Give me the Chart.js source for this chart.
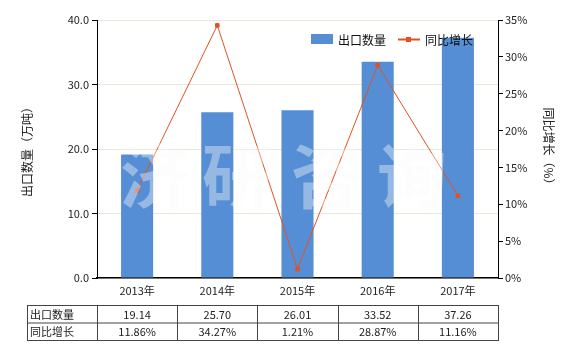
<!DOCTYPE html>
<html>
<head>
<meta charset="utf-8">
<script src="https://cdn.jsdelivr.net/npm/chart.js@4.4.0/dist/chart.umd.min.js"></script>
<style>
  html, body { margin: 0; padding: 0; background: #fff; }
  #wrap { width: 580px; height: 350px; position: relative; }
</style>
</head>
<body>
<div id="wrap"><canvas id="chart" width="580" height="350"></canvas></div>
<script>
// Data
const years = ['2013年', '2014年', '2015年', '2016年', '2017年'];
const exportQty = [19.14, 25.70, 26.01, 33.52, 37.26];
const yoyGrowth = [11.86, 34.27, 1.21, 28.87, 11.16];
const qtyLabels = ['19.14', '25.70', '26.01', '33.52', '37.26'];
const growthLabels = ['11.86%', '34.27%', '1.21%', '28.87%', '11.16%'];

const FONT = '"Noto Sans CJK SC", "DejaVu Sans", sans-serif';
const BAR_COLOR = '#558ed5';
const LINE_COLOR = '#e0531f';
Chart.defaults.font.family = FONT;
Chart.defaults.font.size = 11;
Chart.defaults.color = '#222';

// watermark, legend and data table drawn on the canvas
const extras = {
  id: 'extras',
  afterDatasetsDraw(chart) {
    const ctx = chart.ctx;
    ctx.save();
    ctx.font = 'bold 70px ' + FONT;
    ctx.fillStyle = 'rgba(248, 250, 248, 0.4)';
    ctx.textAlign = 'center';
    ctx.textBaseline = 'middle';
    const wm = ['济', '研', '咨', '询'];
    const wx = [155, 237, 326, 412];
    wm.forEach((c, i) => ctx.fillText(c, wx[i], 176));
    ctx.restore();
  },
  afterDraw(chart) {
    const ctx = chart.ctx;
    const x = chart.scales.x;
    const area = chart.chartArea;
    ctx.save();

    // legend
    ctx.font = '12px ' + FONT;
    ctx.textBaseline = 'middle';
    ctx.textAlign = 'left';
    ctx.fillStyle = BAR_COLOR;
    ctx.fillRect(311, 34, 22, 10);
    ctx.fillStyle = '#111';
    ctx.fillText(chart.data.datasets[1].label, 338, 40);
    ctx.strokeStyle = LINE_COLOR;
    ctx.lineWidth = 2;
    ctx.beginPath();
    ctx.moveTo(398, 39.5);
    ctx.lineTo(420, 39.5);
    ctx.stroke();
    ctx.fillStyle = LINE_COLOR;
    ctx.fillRect(406, 37, 5, 5);
    ctx.fillStyle = '#111';
    ctx.fillText(chart.data.datasets[0].label, 425, 40);

    // data table
    const half = (x.getPixelForValue(1) - x.getPixelForValue(0)) / 2;
    const left = 27;
    const top = 305, mid = 322.5, bot = 340;
    ctx.strokeStyle = '#444';
    ctx.lineWidth = 1;
    ctx.beginPath();
    [top, mid, bot].forEach(y => {
      ctx.moveTo(left, y + 0.5);
      ctx.lineTo(area.right, y + 0.5);
    });
    ctx.moveTo(left + 0.5, top);
    ctx.lineTo(left + 0.5, bot + 1);
    for (let i = 0; i < years.length; i++) {
      const bx = Math.round(x.getPixelForValue(i) - half) + 0.5;
      ctx.moveTo(bx, top);
      ctx.lineTo(bx, bot + 1);
    }
    ctx.moveTo(Math.round(area.right) + 0.5, top);
    ctx.lineTo(Math.round(area.right) + 0.5, bot + 1);
    ctx.stroke();

    ctx.font = '11px ' + FONT;
    ctx.fillStyle = '#222';
    ctx.textAlign = 'left';
    ctx.fillText('出口数量', left + 3, (top + mid) / 2 + 1);
    ctx.fillText('同比增长', left + 3, (mid + bot) / 2 + 1);
    ctx.textAlign = 'center';
    for (let i = 0; i < years.length; i++) {
      const cx = x.getPixelForValue(i);
      ctx.fillText(qtyLabels[i], cx, (top + mid) / 2 + 1);
      ctx.fillText(growthLabels[i], cx, (mid + bot) / 2 + 1);
    }
    ctx.restore();
  }
};

new Chart(document.getElementById('chart'), {
  data: {
    labels: years,
    datasets: [
      {
        type: 'line',
        label: '同比增长',
        data: yoyGrowth,
        yAxisID: 'y1',
        borderColor: LINE_COLOR,
        backgroundColor: LINE_COLOR,
        borderWidth: 1,
        pointStyle: 'rect',
        pointRadius: 2.5,
        tension: 0,
        order: 0
      },
      {
        type: 'bar',
        label: '出口数量',
        data: exportQty,
        yAxisID: 'y',
        backgroundColor: BAR_COLOR,
        barPercentage: 0.4,
        categoryPercentage: 1,
        order: 1
      }
    ]
  },
  options: {
    responsive: false,
    animation: false,
    layout: { padding: { top: 20, bottom: 0, left: 0, right: 0 } },
    plugins: {
      legend: { display: false },
      tooltip: { enabled: false }
    },
    scales: {
      x: {
        grid: { drawOnChartArea: false, drawTicks: false },
        border: { color: '#000', width: 1.5 },
        ticks: { padding: 6, color: '#222', font: { size: 11 } },
        afterFit(s) { s.height = 72; }
      },
      y: {
        position: 'left',
        min: 0,
        max: 40,
        ticks: {
          stepSize: 10,
          padding: 3,
          color: '#222',
          callback: v => v.toFixed(1)
        },
        grid: { color: '#ebe7d6', tickColor: '#000', tickLength: 5 },
        border: { color: '#000', width: 1 },
        title: {
          display: true,
          text: '出口数量（万吨）',
          font: { size: 12 },
          color: '#222',
          padding: { top: 20, bottom: 0 }
        },
        afterFit(s) { s.width = 97; }
      },
      y1: {
        position: 'right',
        min: 0,
        max: 35,
        ticks: {
          stepSize: 5,
          padding: 2,
          color: '#222',
          callback: v => v + '%'
        },
        grid: { drawOnChartArea: false, tickColor: '#000', tickLength: 5 },
        border: { color: '#000', width: 1 },
        title: {
          display: true,
          text: '同比增长（%）',
          font: { size: 12 },
          color: '#222',
          padding: { top: 24, bottom: 0 }
        },
        afterFit(s) { s.width = 82; }
      }
    }
  },
  plugins: [extras]
});
</script>
</body>
</html>
